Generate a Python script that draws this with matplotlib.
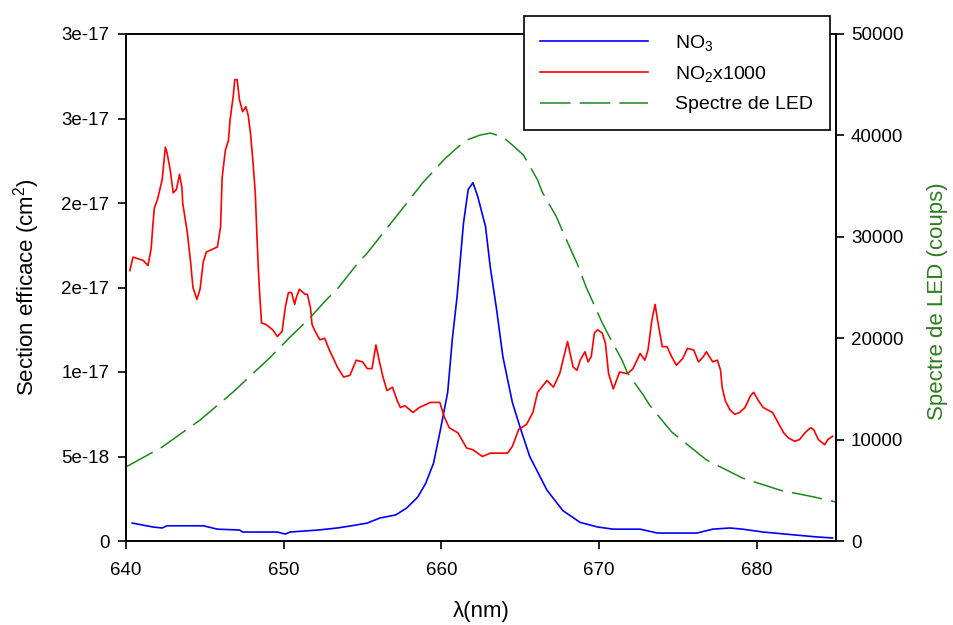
import numpy as np
import matplotlib
matplotlib.use('Agg')
import matplotlib.pyplot as plt
from matplotlib.ticker import FixedLocator, FixedFormatter

plt.rcParams['font.family'] = ['Liberation Sans', 'DejaVu Sans']
plt.rcParams['mathtext.fontset'] = 'custom'
plt.rcParams['mathtext.rm'] = 'Liberation Sans'
plt.rcParams['mathtext.it'] = 'Liberation Sans:italic'

# NO3 cross section (units of 1e-18 cm2)
lam_no3 = [640.4, 641.7, 642.3, 642.6, 644.9, 645.8, 647.2, 647.4, 649.6, 650.1,
           650.4, 652.2, 653.4, 654.3, 655.3, 656.1, 657.1, 657.8, 658.5, 659.0,
           659.5, 659.9, 660.4, 660.7, 661.0, 661.4, 661.7, 662.0, 662.3, 662.8,
           663.1, 663.5, 663.9, 664.5, 665.0, 665.6, 666.7, 667.7, 668.8, 669.9,
           670.9, 672.6, 673.7, 676.2, 677.2, 678.3, 679.1, 680.4, 682.5, 683.8,
           684.8]
no3 = [1.06, 0.83, 0.77, 0.9, 0.9, 0.7, 0.65, 0.53, 0.53, 0.41,
       0.53, 0.65, 0.77, 0.9, 1.06, 1.36, 1.54, 1.95, 2.6, 3.4,
       4.6, 6.4, 8.8, 12.0, 14.5, 18.8, 20.8, 21.2, 20.4, 18.6,
       16.2, 13.7, 10.9, 8.2, 6.7, 5.0, 3.0, 1.8, 1.1, 0.83,
       0.7, 0.7, 0.47, 0.47, 0.7, 0.77, 0.7, 0.53, 0.35, 0.24,
       0.18]

# NO2 cross section x1000 (units of 1e-18 cm2)
lam_no2 = [640.25, 640.45, 641.1, 641.4, 641.6, 641.7, 641.8, 642.0, 642.3, 642.5,
           642.6, 642.8, 643.0, 643.2, 643.4, 643.55, 643.6, 643.9, 644.1, 644.25,
           644.5, 644.7, 644.9, 645.1, 645.8, 646.0, 646.1, 646.3, 646.5, 646.6,
           646.8, 646.9, 647.05, 647.2, 647.4, 647.6, 647.75, 647.9, 648.05, 648.2,
           648.3, 648.4, 648.5, 648.6, 648.9, 649.3, 649.6, 649.9, 650.1, 650.3,
           650.5, 650.7, 650.8, 651.0, 651.35, 651.5, 651.7, 651.8, 652.0, 652.3,
           652.6, 652.9, 653.4, 653.8, 654.2, 654.6, 655.0, 655.3, 655.6, 655.85,
           656.1, 656.3, 656.55, 656.9, 657.2, 657.4, 657.7, 658.2, 658.6, 659.3,
           659.9, 660.2, 660.5, 661.05, 661.6, 662.0, 662.6, 663.1, 664.2, 664.5,
           664.9, 665.4, 665.8, 666.1, 666.7, 667.1, 667.5, 668.0, 668.35, 668.6,
           668.8, 669.1, 669.3, 669.5, 669.7, 669.9, 670.2, 670.4, 670.6, 670.9,
           671.1, 671.3, 671.8, 672.15, 672.6, 672.9, 673.1, 673.35, 673.55, 673.7,
           674.0, 674.3, 674.6, 674.9, 675.3, 675.6, 676.0, 676.3, 676.6, 676.8,
           677.0, 677.2, 677.5, 677.7, 677.8, 678.0, 678.3, 678.6, 678.9, 679.25,
           679.6, 679.8, 680.1, 680.4, 680.7, 681.0, 681.35, 681.7, 682.0, 682.4,
           682.7, 683.05, 683.4, 683.6, 683.9, 684.3, 684.5, 684.8]
no2 = [16.0, 16.8, 16.6, 16.3, 17.3, 18.6, 19.7, 20.2, 21.4, 23.3,
       23.0, 22.0, 20.6, 20.8, 21.7, 20.9, 20.0, 18.2, 16.5, 15.0,
       14.3, 14.9, 16.5, 17.1, 17.4, 18.6, 21.5, 23.1, 23.7, 24.9,
       26.3, 27.3, 27.3, 26.1, 25.4, 25.7, 25.2, 24.1, 22.5, 20.6,
       18.2, 16.0, 14.3, 12.9, 12.8, 12.5, 12.1, 12.4, 13.8, 14.7,
       14.7, 14.0, 14.4, 14.9, 14.6, 14.6, 13.8, 12.8, 12.4, 11.9,
       12.0, 11.3, 10.3, 9.7, 9.8, 10.7, 10.6, 10.2, 10.2, 11.6,
       10.5, 9.7, 8.9, 9.1, 8.3, 7.9, 8.0, 7.6, 7.9, 8.2,
       8.2, 7.3, 6.7, 6.4, 5.5, 5.4, 5.0, 5.2, 5.2, 5.6,
       6.6, 6.9, 7.6, 8.8, 9.5, 9.1, 9.9, 11.8, 10.3, 10.1,
       10.7, 11.2, 10.6, 10.9, 12.3, 12.5, 12.3, 11.7, 9.9, 9.0,
       9.5, 10.0, 9.9, 10.2, 11.1, 10.7, 11.3, 13.1, 14.0, 13.1,
       11.5, 11.5, 10.9, 10.4, 10.8, 11.4, 11.3, 10.6, 10.9, 11.2,
       10.9, 10.6, 10.7, 10.1, 9.1, 8.3, 7.75, 7.5, 7.6, 7.9,
       8.6, 8.8, 8.3, 7.9, 7.75, 7.6, 7.0, 6.4, 6.1, 5.9,
       6.0, 6.4, 6.7, 6.6, 6.0, 5.7, 6.0, 6.2]

# LED spectrum (counts)
lam_led = [640.0, 642.3, 644.7, 646.8, 649.1, 650.4, 651.6, 652.75, 653.4, 654.7,
           655.3, 656.55, 657.06, 658.3, 658.8, 660.2, 660.9, 661.6, 662.45, 663.1,
           663.9, 664.5, 665.2, 666.1, 666.4, 667.3, 667.6, 668.3, 668.6, 669.2,
           669.55, 670.2, 670.6, 671.45, 671.8, 672.8, 673.2, 674.6, 676.8, 679.1,
           681.5, 683.6, 685.0]
led = [7300, 9270, 11930, 14700, 18040, 20100, 21900, 23860, 24850, 27400,
       28400, 30860, 31850, 34300, 35300, 37660, 38650, 39540, 40030, 40230,
       39840, 39050, 38060, 35600, 34400, 31950, 30860, 28400, 27400, 24950,
       23760, 21500, 20300, 17850, 16560, 14400, 13400, 10750, 8000, 6200,
       5000, 4350, 3850]

left_ticks = [0, 5e-18, 1e-17, 1.5e-17, 2e-17, 2.5e-17, 3e-17]
left_labels = ['0', '5e-18', '1e-17', '2e-17', '2e-17', '3e-17', '3e-17']
right_ticks = [0, 10000, 20000, 30000, 40000, 50000]
x_ticks = [640, 650, 660, 670, 680]

fig = plt.figure(figsize=(9.54, 6.25), dpi=100)
ax = fig.add_axes([0.132, 0.1344, 0.744, 0.8112])
ax2 = ax.twinx()

l1, = ax.plot(lam_no3, np.array(no3) * 1e-18, color='#0000ff', lw=1.2, label='NO$_3$')
l2, = ax.plot(lam_no2, np.array(no2) * 1e-18, color='#ff0000', lw=1.2, label='NO$_2$x1000')
l3, = ax2.plot(lam_led, led, color='#1a8a1a', lw=1.1, dashes=(20, 6), label='Spectre de LED')

ax.set_xlim(640, 685)
ax.set_ylim(0, 3e-17)
ax2.set_ylim(0, 50000)

ax.xaxis.set_major_locator(FixedLocator(x_ticks))
ax.yaxis.set_major_locator(FixedLocator(left_ticks))
ax.yaxis.set_major_formatter(FixedFormatter(left_labels))
ax2.yaxis.set_major_locator(FixedLocator(right_ticks))

for a in (ax, ax2):
    for s in a.spines.values():
        s.set_linewidth(1.2)
ax.tick_params(axis='y', direction='out', length=6, width=1.2, labelsize=13.5, pad=6)
ax.tick_params(axis='x', direction='out', length=6, width=1.2, labelsize=13.5, pad=9)
ax2.tick_params(axis='y', direction='out', length=6, width=1.2, labelsize=13.5, pad=5)

ax.set_xlabel('λ(nm)', fontsize=16, labelpad=16)
ax.set_ylabel('Section efficace (cm$^2$)', fontsize=16, labelpad=14)
ax2.set_ylabel('Spectre de LED (coups)', fontsize=16, color='#2e7d1e', labelpad=17)
ax2.yaxis.label.set_y(0.473)

leg = fig.legend(handles=[l1, l2, l3], loc='upper right',
                 bbox_to_anchor=(0.870, 0.9744), borderaxespad=0,
                 fontsize=14, handlelength=5.56, handletextpad=1.4,
                 labelspacing=0.6, borderpad=0.85, fancybox=False,
                 framealpha=1, edgecolor='black')
leg.get_frame().set_linewidth(1.2)

fig.savefig('out.png', dpi=100)
